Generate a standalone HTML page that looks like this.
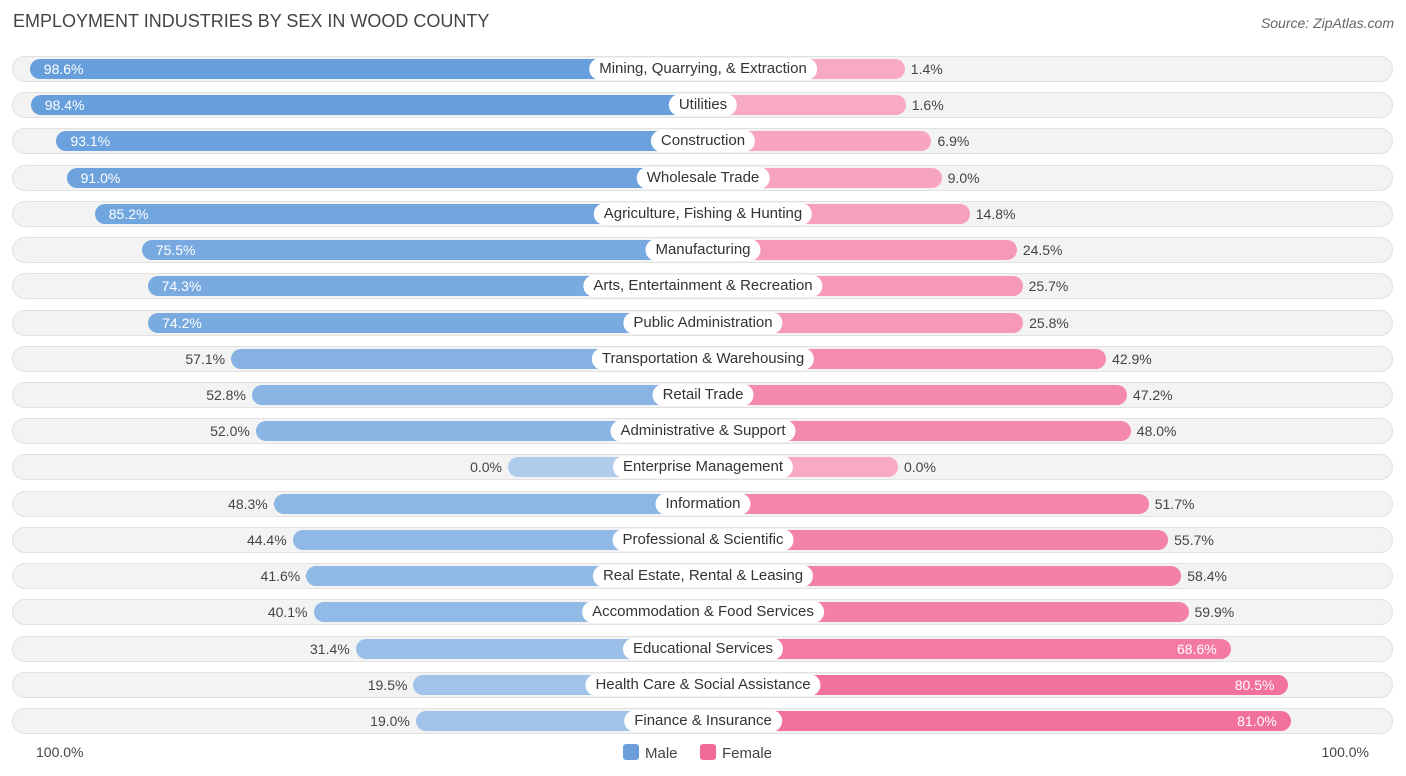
<!DOCTYPE html>
<html><head><meta charset="utf-8"><style>
body{margin:0;width:1406px;height:776px;background:#fff;font-family:"Liberation Sans",sans-serif;position:relative;overflow:hidden}
.title{position:absolute;left:13px;top:11px;font-size:18px;color:#444}
.src{position:absolute;right:12px;top:15px;font-size:14px;color:#666;font-style:italic}
.row{position:absolute;left:12px;width:1381px;height:26px;border-radius:13px;background:#f3f3f3;box-shadow:inset 0 0 0 1px #e2e2e2}
.bar{position:absolute;height:20px;border-radius:10px}
.lbl{position:absolute;height:22px;line-height:22px;padding:0 10px;background:#fff;border-radius:11px;font-size:15px;color:#333;transform:translateX(-50%);white-space:nowrap}
.val{position:absolute;font-size:14px;line-height:20px;color:#444}
.ax{position:absolute;top:744px;font-size:14px;color:#444}
.leg{position:absolute;top:744px;font-size:15px;color:#444}
.sw{display:inline-block;width:16px;height:16px;border-radius:3px;vertical-align:-2px;margin-right:6px}
</style></head><body>
<div class="title">EMPLOYMENT INDUSTRIES BY SEX IN WOOD COUNTY</div>
<div class="src">Source: ZipAtlas.com</div>
<div id="chart"></div>
<div class="ax" style="left:36px">100.0%</div>
<div class="ax" style="right:37px">100.0%</div>
<div class="leg" style="left:623px"><span class="sw" style="background:#6a9fdc"></span>Male</div>
<div class="leg" style="left:700px"><span class="sw" style="background:#f06a96"></span>Female</div>
<script>
const categories=["Mining, Quarrying, & Extraction","Utilities","Construction","Wholesale Trade","Agriculture, Fishing & Hunting","Manufacturing","Arts, Entertainment & Recreation","Public Administration","Transportation & Warehousing","Retail Trade","Administrative & Support","Enterprise Management","Information","Professional & Scientific","Real Estate, Rental & Leasing","Accommodation & Food Services","Educational Services","Health Care & Social Assistance","Finance & Insurance"];
const maleValues=[98.6,98.4,93.1,91.0,85.2,75.5,74.3,74.2,57.1,52.8,52.0,0.0,48.3,44.4,41.6,40.1,31.4,19.5,19.0];
const femaleValues=[1.4,1.6,6.9,9.0,14.8,24.5,25.7,25.8,42.9,47.2,48.0,0.0,51.7,55.7,58.4,59.9,68.6,80.5,81.0];
const cx=703,base=195,scale=4.85,y0=69,step=36.22;
function xL(v){return cx-base-scale*v}
function xR(v){return cx+base+scale*v}
function yC(i){return y0+i*step}
function mix(a,b,t){return 'rgb('+a.map((c,k)=>Math.round(c+(b[k]-c)*t)).join(',')+')'}
const ch=document.getElementById('chart');
categories.forEach((c,i)=>{
 const y=yC(i);
 const r=document.createElement('div');r.className='row';r.style.top=(y-13)+'px';
 
 
 ch.appendChild(r);
 const m=maleValues[i],f=femaleValues[i];
 const mb=document.createElement('div');mb.className='bar';
 
 
 const ml=xL(m);mb.style.left=ml+'px';mb.style.width=(cx-ml)+'px';mb.style.top=(y-10)+'px';
 mb.style.background=mix([176,204,236],[102,158,220],m/100);ch.appendChild(mb);
 const fb=document.createElement('div');fb.className='bar';
 
 
 const fr=xR(f);fb.style.left=cx+'px';fb.style.width=(fr-cx)+'px';fb.style.top=(y-10)+'px';
 fb.style.background=mix([248,170,196],[240,100,145],f/100);ch.appendChild(fb);
 const mv=document.createElement('div');mv.className='val';mv.textContent=m.toFixed(1)+'%';mv.style.top=(y-10)+'px';
 
 
 if(m>65){mv.style.left=(ml+14)+'px';mv.style.color='#fff';}else{mv.style.right=(1406-ml+6)+'px';}
 ch.appendChild(mv);
 const fv=document.createElement('div');fv.className='val';fv.textContent=f.toFixed(1)+'%';fv.style.top=(y-10)+'px';
 
 
 if(f>65){fv.style.right=(1406-fr+14)+'px';fv.style.color='#fff';}else{fv.style.left=(fr+6)+'px';}
 ch.appendChild(fv);
 const l=document.createElement('div');l.className='lbl';l.textContent=c;l.style.left=cx+'px';l.style.top=(y-11)+'px';
 
 
 ch.appendChild(l);
});
</script>
</body></html>
